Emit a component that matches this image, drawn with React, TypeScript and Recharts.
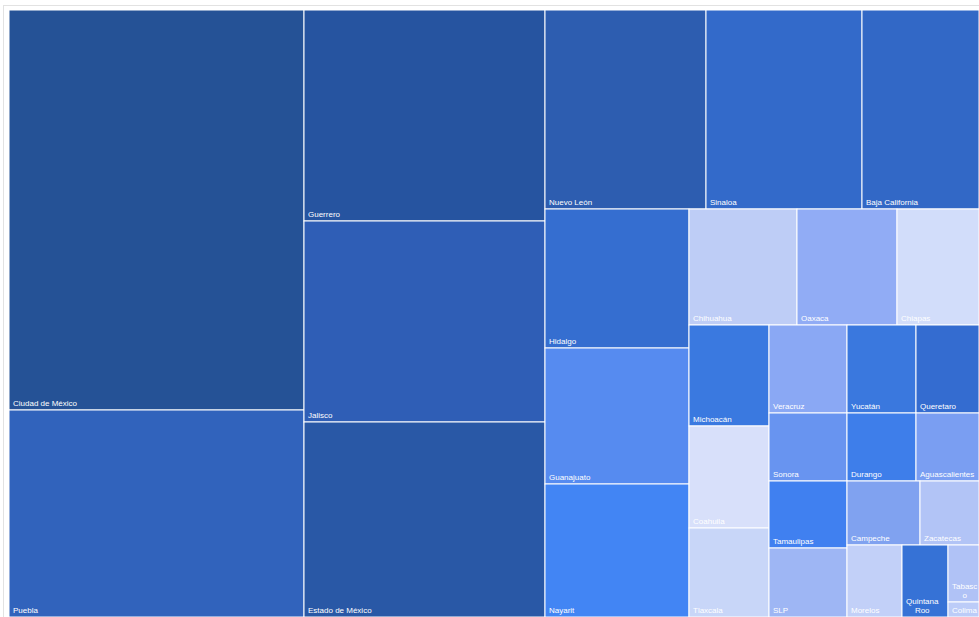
import React from 'react';
import { Treemap } from 'recharts';

// States and the value behind each tile
const states = [
  'Ciudad de México', 'Puebla', 'Guerrero', 'Jalisco', 'Estado de México',
  'Nuevo León', 'Sinaloa', 'Baja California', 'Hidalgo', 'Guanajuato',
  'Nayarit', 'Chihuahua', 'Oaxaca', 'Chiapas', 'Michoacán', 'Coahuila',
  'Tlaxcala', 'Veracruz', 'Yucatán', 'Queretaro', 'Sonora', 'Durango',
  'Aguascalientes', 'Tamaulipas', 'SLP', 'Campeche', 'Zacatecas', 'Morelos',
  'Quintana Roo', 'Tabasco', 'Colima',
];

const values = [
  118000, 61065, 50851, 48441, 46995,
  32039, 31044, 23283, 20016, 19584,
  19152, 12528, 11600, 9512, 8080, 8160,
  7120, 6864, 6072, 5544, 5304, 4692,
  4284, 5226, 5382, 4672, 3776, 3960,
  3312, 1767, 465,
];

const colors = [
  '#255296', '#3163bc', '#2654a0', '#2f5eb6', '#2958a6',
  '#2d5db0', '#336aca', '#3268c6', '#356ed0', '#568bf0',
  '#4285f4', '#becdf6', '#91acf5', '#d2ddfa', '#3a79e0', '#d8e0fa',
  '#c8d6f8', '#8aa8f4', '#3a78de', '#346cd0', '#6894f0', '#3e7eea',
  '#7a9ef2', '#4080f0', '#9eb6f4', '#80a2f0', '#b2c4f6', '#c2d0f8',
  '#3672d6', '#b0c2f6', '#bcccf8',
];

// How the tiles are grouped into strips (columns / rows) before squarifying
const blocks: any[] = [
  ['Ciudad de México', 'Puebla'],
  [
    ['Guerrero', 'Jalisco', 'Estado de México'],
    [
      ['Nuevo León', 'Sinaloa', 'Baja California'],
      [
        ['Hidalgo', 'Guanajuato', 'Nayarit'],
        [
          ['Chihuahua', 'Oaxaca', 'Chiapas'],
          [
            ['Michoacán', 'Coahuila', 'Tlaxcala'],
            [
              ['Veracruz', 'Yucatán', 'Queretaro'],
              [
                ['Sonora', 'Durango', 'Aguascalientes'],
                [
                  ['Tamaulipas', 'SLP'],
                  ['Campeche', 'Zacatecas', 'Morelos', 'Quintana Roo', 'Tabasco', 'Colima'],
                ],
              ],
            ],
          ],
        ],
      ],
    ],
  ],
];

const build = (node: any, path: string): any => {
  if (typeof node === 'string') {
    return { name: node, value: values[states.indexOf(node)] };
  }
  return { name: `grupo-${path}`, children: node.map((n: any, i: number) => build(n, `${path}-${i}`)) };
};

const data = blocks.map((b, i) => build(b, String(i)));

const FONT = "'Liberation Sans', Arial, sans-serif";
const FONT_SIZE = 8;

let ctx: CanvasRenderingContext2D | null = null;
const measure = (s: string) => {
  if (!ctx) {
    ctx = document.createElement('canvas').getContext('2d');
    if (ctx) ctx.font = `${FONT_SIZE}px 'Liberation Sans', Arial, sans-serif`;
  }
  return ctx ? ctx.measureText(s).width : s.length * 4.4;
};

const wrap = (label: string, maxW: number) => {
  const lines: string[] = [];
  let cur = '';
  const pushWord = (word: string) => {
    // break a word that is wider than the cell
    let piece = '';
    for (const ch of word) {
      if (piece && measure(piece + ch) > maxW) {
        lines.push(piece);
        piece = ch;
      } else piece += ch;
    }
    return piece;
  };
  label.split(' ').forEach((word) => {
    const test = cur ? `${cur} ${word}` : word;
    if (measure(test) <= maxW) {
      cur = test;
    } else {
      if (cur) lines.push(cur);
      cur = measure(word) > maxW ? pushWord(word) : word;
    }
  });
  if (cur) lines.push(cur);
  return lines;
};

const Tile = (props: any) => {
  const { x, y, width, height, name, children } = props;
  if (children && children.length) return null;
  const fill = colors[states.indexOf(name)];
  const lines = wrap(name, width - 4);
  const blockW = Math.max(...lines.map(measure));
  const n = lines.length;
  return (
    <g>
      <rect x={x} y={y} width={width} height={height} fill={fill} stroke="#ffffff" strokeWidth={1} />
      {lines.map((line, i) => (
        <text
          key={i}
          x={n > 1 ? x + 4 + blockW / 2 : x + 4}
          y={y + height - 4 - (n - 1 - i) * 9}
          textAnchor={n > 1 ? 'middle' : 'start'}
          fill="#ffffff"
          fontSize={FONT_SIZE}
          fontFamily={FONT}
        >
          {line}
        </text>
      ))}
    </g>
  );
};

export default function App() {
  return (
    <div>
      <div
        style={{
          position: 'absolute',
          left: 3,
          top: 5,
          width: 976,
          height: 612,
          boxSizing: 'border-box',
          borderTop: '1px solid #e2e2e2',
          borderLeft: '1px solid #e2e2e2',
          background: '#ffffff',
        }}
      />
      <div style={{ position: 'absolute', left: 9, top: 10 }}>
        <Treemap
          width={970}
          height={607}
          data={data}
          dataKey="value"
          nameKey="name"
          type="flat"
          aspectRatio={1.045}
          isAnimationActive={false}
          content={(p: any) => <Tile {...p} />}
        />
      </div>
    </div>
  );
}
